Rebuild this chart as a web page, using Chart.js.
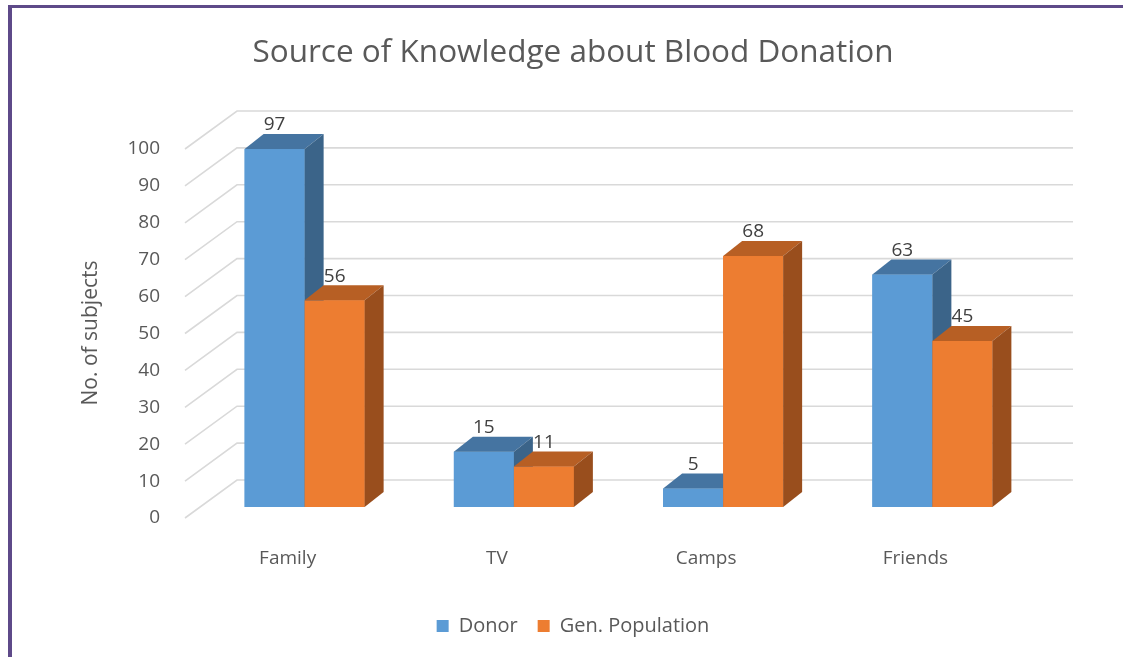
<!DOCTYPE html>
<html>
<head>
<meta charset="utf-8">
<script src="https://cdn.jsdelivr.net/npm/chart.js@4.4.1/dist/chart.umd.min.js"></script>
<style>
  html, body { margin: 0; padding: 0; background: #fff; overflow: hidden; }
  #wrap { position: relative; width: 1123px; height: 657px; overflow: hidden; }
  #frame { position: absolute; left: 8px; top: 5px; width: 2000px; height: 2000px;
           border-left: 4px solid #5e4a89; border-top: 3px solid #5e4a89; }
  canvas { position: absolute; left: 0; top: 0; }
</style>
</head>
<body>
<div id="wrap">
  <canvas id="chart" width="1146" height="657"></canvas>
  <div id="frame"></div>
</div>
<script>
  // datos
  const categories = ['Family', 'TV', 'Camps', 'Friends'];
  const donor = [97, 15, 5, 63];
  const genPopulation = [56, 11, 68, 45];
  const seriesNames = ['Donor', 'Gen. Population'];

  const frontColors = ['#5b9bd5', '#ed7d31'];
  const topColors = ['#4574a1', '#b75f24'];
  const sideColors = ['#3b6489', '#994e1d'];

  const FONT = '"Open Sans", sans-serif';
  const DEPTH_X = 19, DEPTH_Y = 15;

  // pared del fondo y líneas del piso (estilo 3D de Excel)
  const wallGrid = {
    id: 'wallGrid',
    beforeDatasetsDraw(chart) {
      const { ctx, chartArea } = chart;
      const y = chart.scales.y;
      ctx.save();
      ctx.strokeStyle = '#d9d9d9';
      ctx.lineWidth = 1.6;
      y.ticks.forEach(t => {
        const py = y.getPixelForValue(t.value);
        ctx.beginPath();
        ctx.moveTo(chartArea.left - 15, py + 11);
        ctx.lineTo(chartArea.left + 37, py - 27);
        ctx.lineTo(chartArea.right + 36, py - 27);
        ctx.stroke();
      });
      ctx.restore();
    }
  };

  // barras con cara superior y lateral
  const bars3d = {
    id: 'bars3d',
    afterDatasetsDraw(chart) {
      const { ctx } = chart;
      const metas = [chart.getDatasetMeta(0), chart.getDatasetMeta(1)];
      ctx.save();
      categories.forEach((c, i) => {
        metas.forEach((meta, d) => {
          const el = meta.data[i];
          const x0 = el.x - el.width / 2, x1 = el.x + el.width / 2;
          const top = el.y, base = el.base;
          ctx.fillStyle = frontColors[d];
          ctx.fillRect(x0, top, x1 - x0, base - top);
          ctx.fillStyle = topColors[d];
          ctx.beginPath();
          ctx.moveTo(x0, top);
          ctx.lineTo(x1, top);
          ctx.lineTo(x1 + DEPTH_X, top - DEPTH_Y);
          ctx.lineTo(x0 + DEPTH_X, top - DEPTH_Y);
          ctx.closePath();
          ctx.fill();
          ctx.fillStyle = sideColors[d];
          ctx.beginPath();
          ctx.moveTo(x1, top);
          ctx.lineTo(x1 + DEPTH_X, top - DEPTH_Y);
          ctx.lineTo(x1 + DEPTH_X, base - DEPTH_Y);
          ctx.lineTo(x1, base);
          ctx.closePath();
          ctx.fill();
        });
      });
      // etiquetas de datos
      ctx.font = '19px ' + FONT;
      ctx.fillStyle = '#404040';
      ctx.textAlign = 'center';
      ctx.textBaseline = 'middle';
      metas.forEach((meta, d) => {
        const values = chart.data.datasets[d].data;
        meta.data.forEach((el, i) => {
          ctx.fillText(String(values[i]), el.x, el.y - DEPTH_Y - 9);
        });
      });
      // título del eje Y
      ctx.save();
      ctx.translate(91, 333);
      ctx.rotate(-Math.PI / 2);
      ctx.font = '21px ' + FONT;
      ctx.fillStyle = '#595959';
      ctx.fillText('No. of subjects', 0, 0);
      ctx.restore();
      ctx.restore();
    }
  };

  const ctx1 = document.getElementById('chart').getContext('2d');
  const conocimientoChart = new Chart(ctx1, {
    type: 'bar',
    data: {
      labels: categories,
      datasets: [
        { label: seriesNames[0], data: donor, backgroundColor: frontColors[0], borderWidth: 0 },
        { label: seriesNames[1], data: genPopulation, backgroundColor: frontColors[1], borderWidth: 0 },
      ],
    },
    plugins: [wallGrid, bars3d],
    options: {
      responsive: false,
      animation: false,
      layout: { padding: { left: 109, right: 109, top: 0, bottom: 11 } },
      datasets: { bar: { categoryPercentage: 0.5735, barPercentage: 1 } },
      scales: {
        x: {
          grid: { display: false, drawTicks: false },
          border: { display: false },
          ticks: { color: '#595959', font: { family: FONT, size: 19 }, padding: 40, labelOffset: -17 },
          afterFit(scale) { scale.height = 89; },
        },
        y: {
          min: 0, max: 100,
          grid: { display: false, drawTicks: false },
          border: { display: false },
          ticks: { stepSize: 10, color: '#595959', font: { family: FONT, size: 19 }, padding: 40, labelOffset: 11 },
          afterFit(scale) { scale.width = 91; },
        },
      },
      plugins: {
        title: {
          display: true,
          text: 'Source of Knowledge about Blood Donation',
          color: '#595959',
          font: { family: FONT, size: 31.5, weight: 'normal' },
          padding: { top: 34, bottom: 66.2 },
        },
        legend: {
          position: 'bottom',
          labels: { color: '#595959', font: { family: FONT, size: 20 }, boxWidth: 12, boxHeight: 12, padding: 20 },
        },
        tooltip: { enabled: false },
      },
    },
  });
</script>
</body>
</html>
